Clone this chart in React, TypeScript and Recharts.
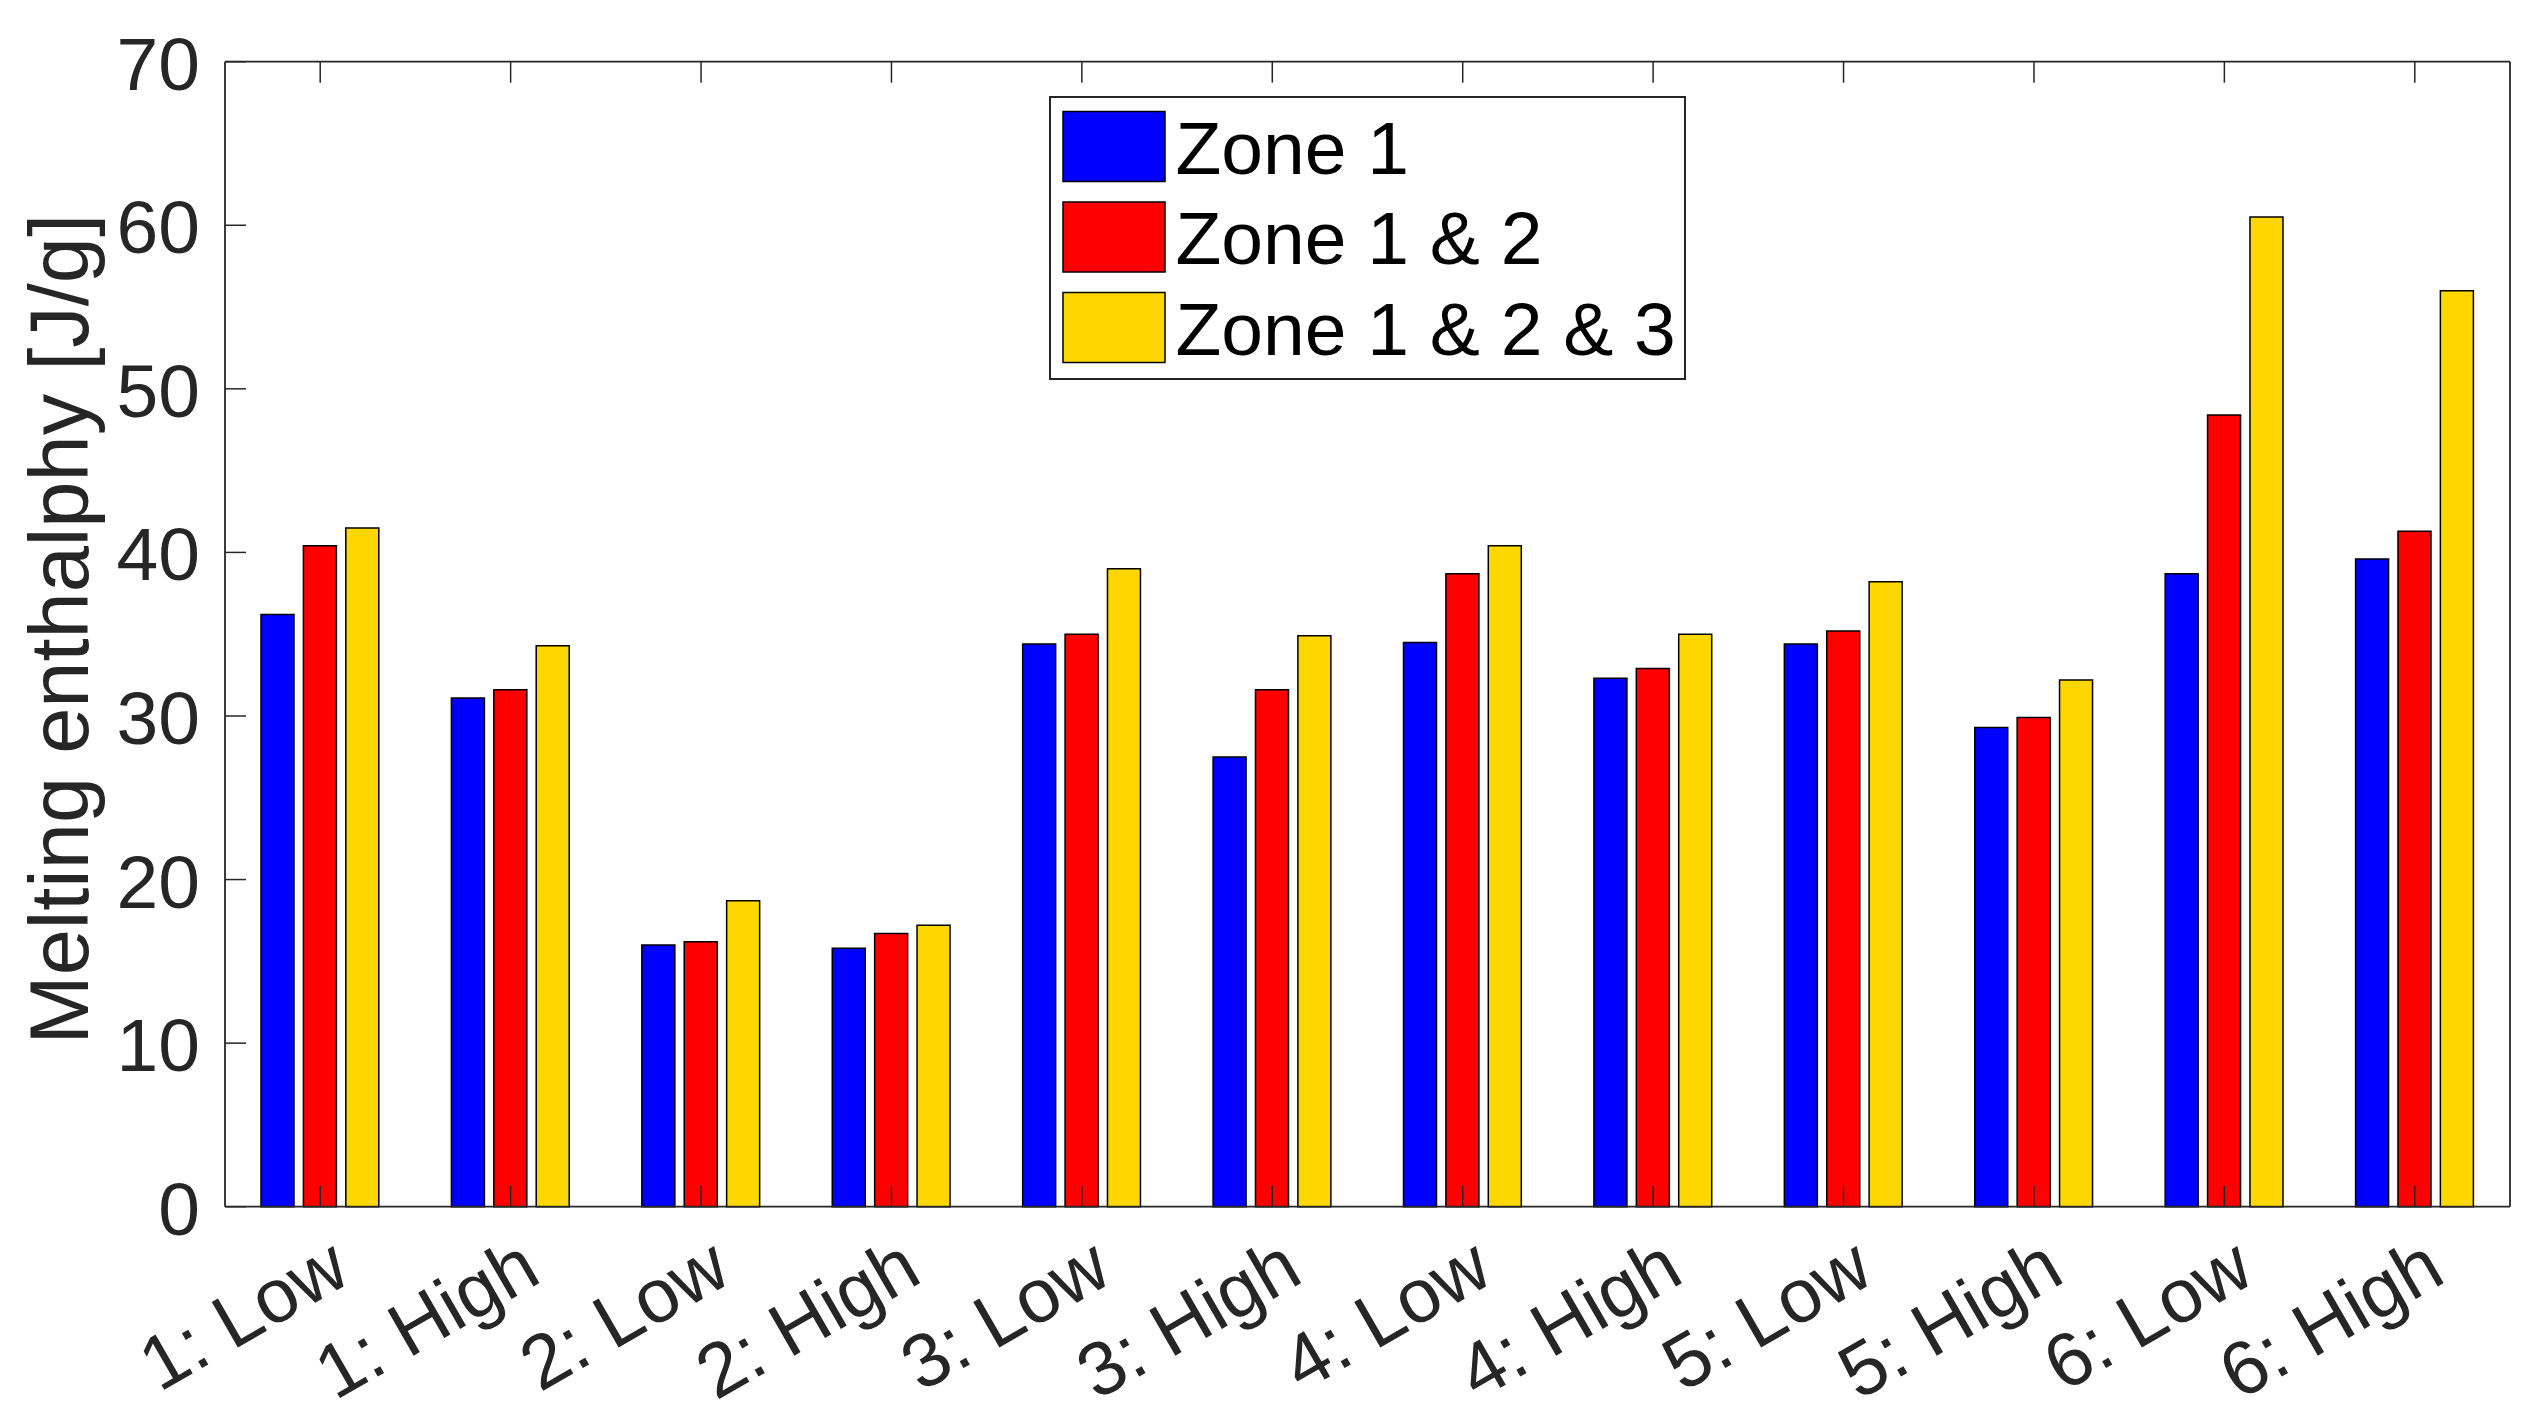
import React from 'react'
import { BarChart, Bar, XAxis, YAxis, Legend, Label } from 'recharts'

const categories = [
  '1: Low', '1: High', '2: Low', '2: High', '3: Low', '3: High',
  '4: Low', '4: High', '5: Low', '5: High', '6: Low', '6: High',
]
const zone1 = [36.2, 31.1, 16.0, 15.8, 34.4, 27.5, 34.5, 32.3, 34.4, 29.3, 38.7, 39.6]
const zone12 = [40.4, 31.6, 16.2, 16.7, 35.0, 31.6, 38.7, 32.9, 35.2, 29.9, 48.4, 41.3]
const zone123 = [41.5, 34.3, 18.7, 17.2, 39.0, 34.9, 40.4, 35.0, 38.2, 32.2, 60.5, 56.0]
const yTicks = [0, 10, 20, 30, 40, 50, 60, 70]

const data = categories.map((label, i) => ({
  label,
  z1: zone1[i],
  z12: zone12[i],
  z123: zone123[i],
}))

const FONT = '"Liberation Sans", Arial, Helvetica, sans-serif'
const AXIS = '#262626'
const TICK_LEN = 21

// bottom axis: inward tick + rotated label
function BottomTick(props: any) {
  const { x, y, payload } = props
  return (
    <g>
      <line x1={x} y1={y} x2={x} y2={y - TICK_LEN} stroke={AXIS} strokeWidth={1.5} />
      <text
        x={x + 33}
        y={y + 74}
        textAnchor="end"
        transform={`rotate(-30 ${x + 33} ${y + 74})`}
        fontSize={76}
        fontFamily={FONT}
        fill={AXIS}
      >
        {payload.value}
      </text>
    </g>
  )
}

function TopTick(props: any) {
  const { x, y } = props
  return <line x1={x} y1={y} x2={x} y2={y + TICK_LEN} stroke={AXIS} strokeWidth={1.5} />
}

function LeftTick(props: any) {
  const { x, y, payload } = props
  return (
    <g>
      <line x1={x} y1={y} x2={x + TICK_LEN} y2={y} stroke={AXIS} strokeWidth={1.5} />
      <text x={x - 25} y={y + 28} textAnchor="end" fontSize={75} fontFamily={FONT} fill={AXIS}>
        {payload.value}
      </text>
    </g>
  )
}

function RightTick(props: any) {
  const { x, y } = props
  return <line x1={x} y1={y} x2={x - TICK_LEN} y2={y} stroke={AXIS} strokeWidth={1.5} />
}

function LegendBox(props: any) {
  const items = props.payload ?? []
  return (
    <svg width={637} height={284} style={{ display: 'block' }}>
      <rect x={1} y={1} width={635} height={282} fill="#fff" stroke={AXIS} strokeWidth={2} />
      {items.map((it: any, i: number) => (
        <g key={it.value}>
          <rect
            x={14}
            y={15.5 + i * 90.5}
            width={102}
            height={70}
            fill={it.color}
            stroke="#000"
            strokeWidth={1.5}
          />
          <text x={126.5} y={77.6 + i * 90.8} fontSize={75} fontFamily={FONT} fill="#000">
            {it.value}
          </text>
        </g>
      ))}
    </svg>
  )
}

export default function App() {
  return (
    <div style={{ width: 2534, height: 1426, background: '#fff' }}>
      <style>{'body{margin:0}'}</style>
      <BarChart
        width={2534}
        height={1426}
        data={data}
        margin={{ top: 0, right: 0, bottom: 0, left: 0 }}
        barSize={33}
        barGap={9.4}
      >
        <XAxis
          dataKey="label"
          height={219.3}
          tickSize={0}
          tickMargin={0}
          interval={0}
          tick={<BottomTick />}
          tickLine={false}
          axisLine={{ stroke: AXIS, strokeWidth: 1.8 }}
        />
        <XAxis
          xAxisId="top"
          orientation="top"
          dataKey="label"
          height={61.7}
          tickSize={0}
          tickMargin={0}
          interval={0}
          tick={<TopTick />}
          tickLine={false}
          axisLine={{ stroke: AXIS, strokeWidth: 1.8 }}
        />
        <YAxis
          width={225}
          domain={[0, 70]}
          ticks={yTicks}
          type="number"
          tickSize={0}
          tickMargin={0}
          tick={<LeftTick />}
          tickLine={false}
          axisLine={{ stroke: AXIS, strokeWidth: 1.8 }}
        >
          <Label
            content={(p: any) => {
              const vb = p.viewBox ?? { x: 0, y: 61.7, width: 225, height: 1145 }
              const cy = vb.y + vb.height / 2 - 5
              return (
                <text
                  x={88}
                  y={cy}
                  textAnchor="middle"
                  transform={`rotate(-90 88 ${cy})`}
                  fontSize={83}
                  fontFamily={FONT}
                  fill={AXIS}
                >
                  Melting enthalphy [J/g]
                </text>
              )
            }}
          />
        </YAxis>
        <YAxis
          yAxisId="right"
          orientation="right"
          width={24}
          domain={[0, 70]}
          ticks={yTicks}
          type="number"
          tickSize={0}
          tickMargin={0}
          tick={<RightTick />}
          tickLine={false}
          axisLine={{ stroke: AXIS, strokeWidth: 1.8 }}
        />
        <Legend
          layout="vertical"
          align="center"
          verticalAlign="middle"
          wrapperStyle={{ left: 1049, top: 95.7, width: 637, height: 284 }}
          content={<LegendBox />}
        />
        <Bar dataKey="z1" name="Zone 1" fill="#0000FF" stroke="#000" strokeWidth={1.5} isAnimationActive={false} />
        <Bar dataKey="z12" name="Zone 1 & 2" fill="#FF0000" stroke="#000" strokeWidth={1.5} isAnimationActive={false} />
        <Bar dataKey="z123" name="Zone 1 & 2 & 3" fill="#FFD700" stroke="#000" strokeWidth={1.5} isAnimationActive={false} />
      </BarChart>
    </div>
  )
}
